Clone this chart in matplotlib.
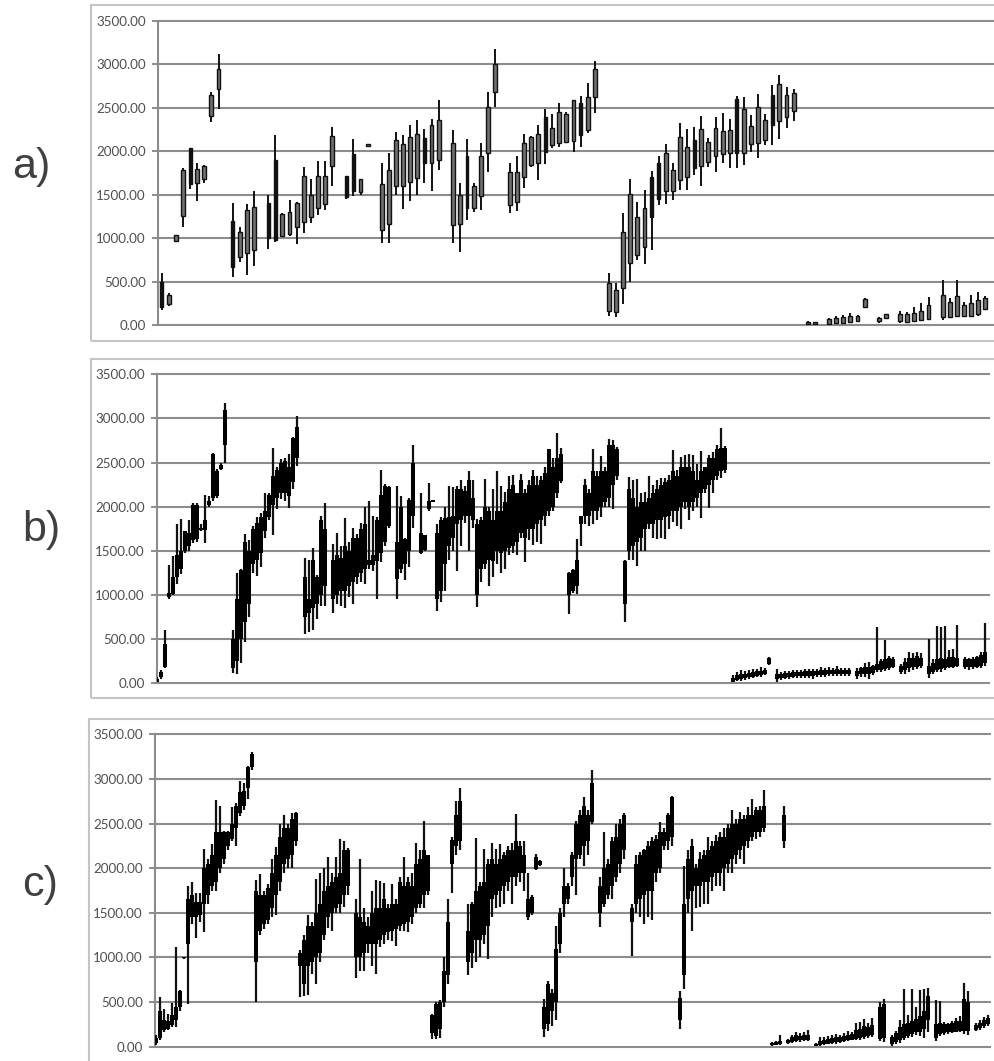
import numpy as np
import matplotlib
matplotlib.use('Agg')
import matplotlib.pyplot as plt
from matplotlib.patches import Rectangle

W, H = 994, 1061
yticks = [0, 500, 1000, 1500, 2000, 2500, 3000, 3500]
panel_names = ['a)', 'b)', 'c)']

# panel a: one candle per index, None = no data
a_low = [175,220,960,1130,1570,1430,1630,2340,2490,None,
    560,730,580,680,None,880,960,1010,1030,930,
    1060,1170,1270,1330,1600,None,1450,1480,1500,2055,
    None,950,950,1500,1340,1430,1500,1640,1540,1790,
    None,940,845,1210,1305,1330,1765,2510,None,1285,
    1315,1580,1820,1675,1855,2035,2050,2090,1995,2050,
    2215,2445,None,105,100,245,500,745,700,865,
    1380,1395,1440,1560,1560,1725,1600,1820,1765,1860,
    1805,1805,1840,1995,1925,2070,2070,2135,2265,2350,
    None,8,10,None,10,15,20,30,40,200,
    None,30,75,None,30,30,40,45,65,None,
    60,85,95,95,90,110,180]
a_bot = [215,245,965,1260,1620,1640,1680,2410,2720,None,
    670,790,830,870,None,1000,980,1030,1050,1130,
    1190,1240,1350,1390,1830,None,1470,1540,1530,2055,
    None,1090,1160,1600,1600,1650,1690,1860,1870,1900,
    None,1150,1165,1345,1345,1480,1985,2685,None,1380,
    1420,1705,1840,1870,1995,2070,2090,2110,2120,2185,
    2245,2625,None,165,155,425,720,810,895,1240,
    1450,1545,1545,1675,1705,1805,1830,1880,1945,1970,
    1975,1985,1985,2080,2100,2130,2300,2350,2390,2460,
    None,12,15,None,20,25,30,35,50,210,
    None,45,85,None,50,40,55,60,75,None,
    90,100,110,110,110,130,190]
a_top = [500,350,1035,1790,2040,1800,1830,2650,2950,None,
    1200,1070,1320,1360,None,1400,1900,1280,1300,1400,
    1710,1500,1720,1710,2170,None,1710,1970,1680,2085,
    None,1620,1780,2130,2080,2160,2200,2150,2300,2360,
    None,2090,1500,1940,1600,1940,2510,3000,None,1765,
    1765,2090,2165,2195,2390,2265,2455,2425,2590,2560,
    2625,2950,None,490,405,1070,1505,1250,1345,1700,
    1860,1985,1785,2160,2050,2130,2250,2110,2265,2235,
    2245,2595,2490,2290,2510,2360,2645,2770,2645,2670,
    None,40,35,None,70,85,95,110,105,300,
    None,85,125,None,125,130,140,170,230,None,
    345,270,335,235,260,290,310]
a_high = [600,375,1040,1810,2040,1860,1840,2680,3120,None,
    1400,1130,1390,1540,None,1500,2190,1290,1440,1420,
    1820,1680,1890,1890,2280,None,1720,2140,1680,2085,
    None,1860,1980,2220,2190,2300,2360,2250,2370,2590,
    None,2240,1630,2145,1640,2100,2685,3180,None,1870,
    1940,2195,2175,2300,2490,2430,2550,2455,2590,2635,
    2780,3040,None,605,490,1285,1680,1420,1555,1775,
    1945,2085,1870,2320,2255,2280,2405,2150,2390,2445,
    2365,2635,2625,2415,2660,2430,2760,2875,2735,2720,
    None,45,40,None,85,105,115,140,120,315,
    None,95,135,None,160,155,210,260,320,None,
    525,310,525,265,350,380,335]
a_black = [0, 4, 10, 15, 16, 26, 27, 37, 43, 54, 59, 69, 70, 75, 81, 86]

b_low = [10,50,170,950,1000,1130,1240,1480,1500,1590,
    1600,1720,1590,2000,2070,2100,2420,2490,None,120,
    100,230,470,750,1250,1220,1320,1650,1850,1680,
    1970,2090,2060,1980,2200,2460,None,560,580,600,
    730,870,870,None,800,900,880,850,980,900,
    1120,1150,1130,1300,1270,960,1370,1560,1760,None,
    950,1250,1170,1320,1760,None,1460,1500,1950,2050,
    820,920,1050,1400,1500,1270,1550,1820,1500,1760,
    860,1150,1300,1100,1200,1350,1250,1300,1450,1480,
    1450,1650,1370,1620,1570,1600,1580,1780,1900,1950,
    2100,2270,None,790,1020,1010,1550,1800,1780,1800,
    1850,1880,2000,2000,1970,2300,None,700,1400,1400,
    1330,1500,1500,1750,1650,1640,1650,1630,1750,1830,
    1780,1750,1970,1850,1950,2000,1870,2150,1980,2150,
    2300,2330,2380,None,10,30,30,40,50,60,
    70,70,90,210,None,20,40,50,50,60,
    60,65,65,60,50,70,70,70,80,80,
    85,80,85,85,None,50,70,70,50,90,
    130,130,140,150,170,None,100,110,130,150,
    160,170,None,60,110,130,130,150,170,170,
    180,None,160,150,160,170,170,200]
b_bot = [20,70,180,980,1010,1200,1300,1500,1550,1620,
    1630,1740,1740,2020,2100,2120,2430,2700,None,170,
    250,500,700,900,1350,1400,1480,1730,1880,2020,
    2100,2150,2150,2120,2280,2550,None,750,800,850,
    900,1000,1100,None,950,1000,1050,1050,1100,1150,
    1200,1250,1300,1340,1340,1380,1480,1600,1780,None,
    1180,1300,1350,1500,1900,None,1480,1510,1970,2050,
    950,1050,1350,1550,1650,1800,1850,1900,1900,1850,
    1000,1300,1350,1400,1380,1500,1480,1500,1530,1550,
    1600,1700,1650,1750,1750,1800,1850,1900,1950,2000,
    2150,2290,None,1000,1050,1100,1800,1900,1900,1950,
    1950,2000,2050,2100,2250,2350,None,900,1500,1550,
    1600,1650,1750,1800,1800,1850,1850,1880,1900,1950,
    1950,2000,2050,2000,2050,2100,2150,2200,2250,2300,
    2350,2400,2420,None,20,40,50,60,70,75,
    85,90,100,220,None,50,60,65,70,75,
    80,80,85,85,85,90,90,95,100,100,
    100,100,100,100,None,80,100,110,100,120,
    150,150,160,170,190,None,130,150,170,180,
    190,200,None,110,130,150,160,170,190,190,
    200,None,180,180,180,190,200,230]
b_top = [50,130,450,1020,1200,1450,1500,1720,1700,2020,
    2020,1760,1850,2060,2600,2400,2470,3100,None,500,
    950,1280,1600,1500,1750,1820,1880,1950,2130,2350,
    2420,2500,2520,2450,2780,2900,None,1200,950,1400,
    1200,1850,1750,None,1400,1450,1420,1550,1500,1650,
    1650,1750,1800,1400,1450,1850,2130,2240,2220,None,
    1600,2000,1640,2080,2500,None,1700,1680,2060,2080,
    1700,1850,1870,1880,1900,2200,2200,2180,2300,2100,
    1800,1850,2000,1950,1850,1950,1950,2050,2200,2250,
    2150,2300,2150,2250,2350,2250,2300,2380,2650,2450,
    2550,2600,None,1250,1280,1400,1900,2250,2150,2400,
    2350,2400,2400,2700,2700,2650,None,1380,2200,2100,
    2000,2050,2050,2100,2150,2200,2250,2280,2300,2400,
    2350,2450,2450,2450,2400,2300,2400,2450,2550,2550,
    2650,2660,2670,None,60,90,100,110,120,125,
    135,140,150,290,None,110,110,120,120,125,
    130,130,135,140,140,140,150,150,150,150,
    160,150,150,150,None,140,170,190,190,200,
    220,250,270,290,270,None,200,240,290,290,
    310,290,None,200,230,280,290,280,300,300,
    290,None,270,270,280,300,320,360]
b_high = [70,150,600,1340,1440,1810,1860,1720,1850,2040,
    2040,1800,2130,2120,2610,2430,2490,3170,None,600,
    1250,1300,1690,1620,1780,1880,1930,2160,2150,2660,
    2450,2540,2550,2600,2790,3030,None,1420,1400,1530,
    1230,1900,2040,None,1580,1700,1560,1870,1600,1760,
    1690,1820,2000,2060,1890,1880,2420,2260,2240,None,
    2240,2120,1650,2100,2700,None,2150,1680,2270,2080,
    1810,1880,2000,2230,2220,2240,2300,2230,2400,2300,
    1860,1880,2310,2000,2200,2400,2230,2170,2350,2360,
    2160,2370,2200,2300,2420,2350,2350,2450,2650,2550,
    2840,2670,None,1260,1300,1640,1900,2310,2200,2650,
    2400,2580,2450,2770,2760,2680,None,1400,2340,2300,
    2310,2150,2170,2350,2250,2300,2330,2330,2360,2640,
    2420,2560,2590,2600,2590,2480,2630,2450,2590,2620,
    2700,2890,2690,None,90,130,150,140,150,160,
    160,180,170,300,None,160,130,140,140,150,
    150,155,160,160,160,165,180,175,190,175,
    200,170,175,170,None,170,190,230,240,210,
    640,280,490,310,300,None,220,290,360,340,
    350,340,None,500,280,650,640,650,380,390,
    660,None,300,290,300,310,350,680]

# panel c
c_low = [20,70,170,190,220,220,400,980,480,1380,
    1220,1400,1290,1600,1750,1750,1950,2050,2200,2300,
    2250,2590,2650,2780,3100,500,1250,1320,1370,1450,
    1480,1750,1950,2000,2000,2250,560,570,580,820,
    700,950,1200,1330,1300,1500,1500,1560,1700,None,
    770,850,850,1050,900,820,1120,1150,1200,1180,
    1130,1300,1300,1280,1370,1500,1550,1550,1700,90,
    90,100,450,700,1720,2150,2200,None,800,880,
    950,1000,1150,980,1450,1550,1570,1600,1750,1600,
    1800,1850,1750,1420,1480,1980,2030,110,180,230,
    300,1050,1450,1600,1800,1700,2100,2030,2150,2500,
    None,1340,1570,1650,1650,1850,1950,2100,None,1020,
    1500,1450,1380,1450,1420,1850,1950,2200,2200,2250,
    None,200,650,1500,1300,1550,1560,1600,1600,1750,
    1800,1800,1750,1950,1950,2050,2100,2050,2230,2300,
    2330,2350,2400,None,10,15,15,2230,30,40,
    50,50,60,60,None,5,10,20,25,30,
    35,40,50,60,70,70,80,90,100,110,
    None,60,50,None,10,30,40,80,100,110,
    130,120,100,170,None,60,120,130,140,150,
    160,170,140,130,None,180,190,210,230]
c_bot = [40,100,190,200,240,300,450,990,1150,1450,
    1450,1470,1600,1700,1800,1850,2000,2100,2250,2330,
    2450,2620,2700,2900,3130,950,1300,1380,1420,1550,
    1700,1850,2050,2100,2150,2300,900,700,900,950,
    1000,1050,1250,1450,1500,1550,1600,1700,1800,None,
    1000,1000,1050,1150,1150,1150,1200,1250,1280,1300,
    1320,1350,1380,1400,1450,1550,1600,1700,1750,150,
    120,200,500,800,2050,2250,2300,None,950,1050,
    1200,1200,1250,1350,1650,1700,1750,1800,1850,1900,
    1900,1950,1950,1450,1500,1990,2040,200,250,400,
    500,1150,1600,1650,1900,2100,2150,2250,2300,2520,
    None,1500,1600,1700,1800,1900,2050,2200,None,1400,
    1600,1650,1700,1750,1750,1950,2000,2250,2300,2350,
    None,300,800,1650,1750,1800,1800,1850,1850,1900,
    1950,1950,2000,2050,2100,2150,2200,2250,2300,2350,
    2400,2400,2450,None,15,20,25,2300,40,50,
    60,70,70,80,None,10,20,30,35,40,
    50,55,60,70,80,90,100,110,120,130,
    None,90,100,None,30,50,70,100,120,140,
    160,170,200,300,None,100,140,150,160,170,
    170,180,180,180,None,190,210,230,250]
c_top = [100,400,300,290,350,450,620,1010,1650,1700,
    1620,1620,2000,2050,2150,2400,2400,2400,2400,2500,
    2700,2850,2870,3130,3280,1750,1700,1700,1780,1950,
    2150,2350,2450,2450,2550,2620,1050,1200,1350,1350,
    1500,1600,1750,1800,1850,1900,1950,2200,2200,None,
    1500,1450,1400,1350,1500,1550,1550,1650,1550,1600,
    1600,1850,1800,1850,1800,2050,2100,2200,2150,350,
    480,500,850,1400,2320,2600,2750,None,1300,1600,
    1750,1800,1850,2050,2100,2050,2100,2150,2200,2200,
    2300,2250,2150,1650,1680,2130,2080,450,700,600,
    1100,1500,1800,1800,2150,2500,2600,2700,2600,2950,
    None,1800,2000,2050,2300,2350,2500,2600,None,1550,
    2050,2150,2200,2250,2300,2330,2400,2400,2600,2800,
    None,550,1600,2100,2250,2000,2100,2150,2200,2250,
    2300,2350,2350,2450,2500,2500,2550,2550,2600,2600,
    2650,2650,2700,None,40,50,60,2600,80,110,
    130,120,130,130,None,30,60,80,90,100,
    110,110,120,130,140,190,200,230,220,240,
    None,450,480,None,110,150,220,250,270,290,
    310,340,400,570,None,250,270,250,250,260,
    290,290,530,500,None,240,270,300,320]
c_high = [130,560,420,370,490,1120,630,1010,1800,1840,
    1720,1720,2210,2100,2270,2760,2700,2420,2420,2680,
    2730,2980,2950,3150,3300,1870,1930,1750,1820,2100,
    2240,2500,2600,2500,2620,2630,1080,1250,1480,1400,
    1880,1950,2000,2130,1950,2120,2330,2300,2230,None,
    1650,2100,1550,1450,1750,1870,1860,1830,1600,1820,
    1650,1900,2130,1900,1950,2280,2200,2530,2150,370,
    500,520,1000,1650,2350,2750,2900,None,1600,1620,
    2340,1850,2220,2100,2280,2220,2270,2180,2250,2280,
    2610,2300,2300,1950,1700,2160,2090,530,740,650,
    1350,1550,2000,1830,2180,2530,2650,2800,2650,3100,
    None,1900,2400,2100,2350,2500,2550,2620,None,1600,
    2150,2180,2220,2300,2350,2370,2520,2450,2620,2810,
    None,620,2030,2200,2330,2050,2180,2200,2350,2300,
    2370,2400,2450,2500,2650,2550,2630,2600,2680,2770,
    2680,2700,2880,None,50,60,130,2700,90,130,
    170,150,170,190,None,40,110,110,120,130,
    140,130,150,180,170,260,280,310,270,320,
    None,500,540,None,130,180,300,650,350,650,
    450,630,650,660,None,520,510,280,270,290,
    320,340,710,620,None,260,300,330,350]


def to_float(values):
    return np.array(values, dtype=float)


def make_axes(fig, left, right, top, bottom, first_px, step_px):
    # axes placed in pixels, x axis runs in stick index
    ax = fig.add_axes([left/W, 1-bottom/H, (right-left)/W, (bottom-top)/H])
    ax.set_xlim((left-first_px)/step_px, (right-first_px)/step_px)
    ax.set_ylim(0, 3500)
    ax.set_yticks(yticks)
    ax.set_yticklabels(['%.2f' % v for v in yticks], fontsize=9.6, color='#4f4f4f', family='Lato')
    ax.set_xticks([])
    ax.tick_params(axis='y', length=4.5, width=1.4, color='#8c8c8c', pad=4)
    ax.grid(axis='y', color='#8c8c8c', lw=1.5, zorder=0)
    for line in ax.get_ygridlines():
        line.set_clip_on(False)
    ax.set_axisbelow(True)
    for side in ['top', 'right', 'bottom']:
        ax.spines[side].set_visible(False)
    ax.spines['left'].set_color('#8c8c8c')
    ax.spines['left'].set_linewidth(1.5)
    ax.patch.set_alpha(0)
    return ax


def draw_sticks(ax, low, bot, top, high):
    x = np.arange(len(low))
    ax.vlines(x, to_float(low), to_float(high), color='#111111', lw=1.6, zorder=3)
    ax.vlines(x, to_float(bot), to_float(top), color='black', lw=2.9, zorder=4)


def draw_frame(fig, left, right, top, bottom):
    fig.add_artist(Rectangle((left/W, 1-bottom/H), (right-left)/W, (bottom-top)/H, transform=fig.transFigure,
                             fill=False, edgecolor='#c4c4c4', lw=1.5))


fig = plt.figure(figsize=(W/100, H/100), dpi=100)

draw_frame(fig, 91, 1005, 5, 341)
draw_frame(fig, 91, 1005, 359, 698)
draw_frame(fig, 89, 1005, 719, 1075)

ax_a = make_axes(fig, 157.7, 994, 20.7, 325.3, 161.7, 7.1)
ax_b = make_axes(fig, 156.7, 989, 374.3, 683.3, 157, 4)
ax_c = make_axes(fig, 154.5, 990, 734.3, 1046.7, 156, 4)

# panel a candles
x_a = np.arange(len(a_low))
ax_a.vlines(x_a, to_float(a_low), to_float(a_high), color='#111111', lw=1.4, zorder=3)
is_black = np.isin(x_a, a_black)
a_h = to_float(a_top) - to_float(a_bot)
ax_a.bar(x_a[~is_black], a_h[~is_black], bottom=to_float(a_bot)[~is_black], width=0.55,
         facecolor='#707070', edgecolor='#111111', lw=1.0, zorder=4)
ax_a.bar(x_a[is_black], a_h[is_black], bottom=to_float(a_bot)[is_black], width=0.4,
         facecolor='#111111', edgecolor='#111111', lw=1.0, zorder=4)

draw_sticks(ax_b, b_low, b_bot, b_top, b_high)
draw_sticks(ax_c, c_low, c_bot, c_top, c_high)

# panel letters
for name, px, py in zip(panel_names, [12, 22, 22], [167, 530, 885]):
    fig.text(px/W, 1-py/H, name, fontsize=31, color='#404040', family='Liberation Sans', va='center', ha='left')

fig.savefig('out.png', dpi=100)
